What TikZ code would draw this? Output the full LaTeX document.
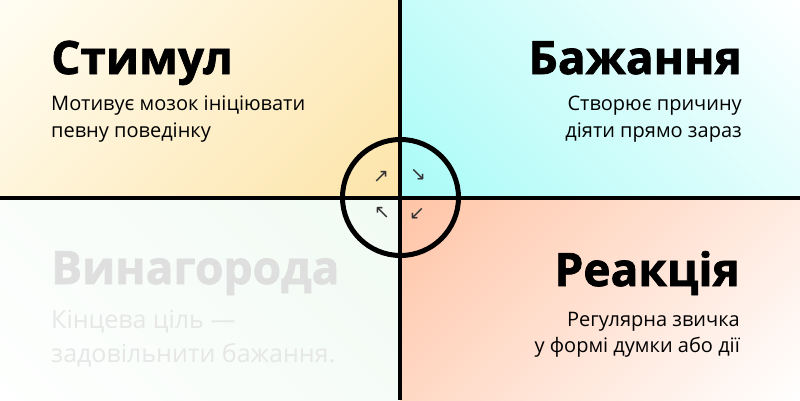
\documentclass[tikz,border=0pt]{standalone}
\usepackage{fontspec}
\setmainfont{Open Sans}
\newfontfamily\titlefont[FakeBold=1.6]{Open Sans Bold}
\newfontfamily\arrowfont{DejaVu Sans}
\definecolor{tlin}{HTML}{FDE4A8}
\definecolor{tlout}{HTML}{FFFDF4}
\definecolor{trin}{HTML}{A8FBF7}
\definecolor{trout}{HTML}{FFFFFF}
\definecolor{brin}{HTML}{FFC4A6}
\definecolor{brout}{HTML}{FFFFFF}
\definecolor{blin}{HTML}{F1FAF3}
\definecolor{blout}{HTML}{FEFFFE}
\definecolor{fadetitle}{HTML}{DEDFDE}
\definecolor{fadetext}{HTML}{E6E7E6}
\tikzset{
  ttl/.style={inner sep=0pt, font=\titlefont\fontsize{46}{50}\selectfont},
  sub/.style={inner sep=0pt, font=\fontsize{20}{24}\selectfont},
  subbig/.style={inner sep=0pt, font=\fontsize{25}{28}\selectfont, text=fadetext},
  arr/.style={inner sep=0pt, font=\arrowfont\fontsize{19}{19}\selectfont, text=black!80},
  divider/.style={line width=4pt},
}
% diagonal linear gradient over a quadrant: #1 x0, #2 y0, #3 x1, #4 y1, #5 angle, #6 start colour, #7 end colour
\newcommand{\quadgrad}[7]{%
  \begin{scope}
    \clip (#1,#2) rectangle (#3,#4);
    \begin{scope}[transform canvas={rotate around={#5:({(#1+#3)/2},{(#2+#4)/2})}}]
      \shade[left color=#6, right color=#7]
        ({(#1+#3)/2-212.2},{(#2+#4)/2-320}) rectangle ({(#1+#3)/2+212.2},{(#2+#4)/2+320});
    \end{scope}
  \end{scope}}
\begin{document}
\begin{tikzpicture}[x=1pt,y=1pt]
\useasboundingbox (0,0) rectangle (800,400);
% quadrant backgrounds
\quadgrad{0}{202}{400}{400}{-45}{tlout}{tlin}
\quadgrad{400}{202}{800}{400}{45}{trin}{trout}
\quadgrad{0}{0}{400}{202}{45}{blout}{blin}
\quadgrad{400}{0}{800}{202}{-45}{brin}{brout}
% dividers
\coordinate (vt) at (400,400);
\coordinate (vb) at (400,0);
\coordinate (hl) at (0,202);
\coordinate (hr) at (800,202);
\draw[divider] (vt) -- (vb);
\draw[divider] (hl) -- (hr);
% ring
\node (ring) [circle, draw, line width=5pt, minimum size=116pt, inner sep=0pt] at (400.5,202.5) {};
% arrows
\node[arr] (a1) at (381,223) {↗};
\node[arr] (a2) at (418,225) {↘};
\node[arr] (a3) at (382,187) {↖};
\node[arr] (a4) at (417,186) {↙};
% top-left
\node[ttl, anchor=base west] (t1) at (51,326) {Стимул};
\node[sub, anchor=base west] (s1a) at (51,290) {Мотивує мозок ініціювати};
\node[sub, anchor=base west] (s1b) at (51,263) {певну поведінку};
% top-right
\node[ttl, anchor=base east] (t2) at (742,326) {Бажання};
\node[sub, anchor=base east] (s2a) at (742,290) {Створює причину};
\node[sub, anchor=base east] (s2b) at (742,263) {діяти прямо зараз};
% bottom-left
\node[ttl, anchor=base west, text=fadetitle] (t3) at (51,116) {Винагорода};
\node[subbig, anchor=base west] (s3a) at (51,72) {Кінцева ціль —};
\node[subbig, anchor=base west] (s3b) at (51,38) {задовільнити бажання.};
% bottom-right
\node[ttl, anchor=base east] (t4) at (740,114) {Реакція};
\node[sub, anchor=base east] (s4a) at (740,74) {Регулярна звичка};
\node[sub, anchor=base east] (s4b) at (740,48) {у формі думки або дії};
\end{tikzpicture}
\end{document}
